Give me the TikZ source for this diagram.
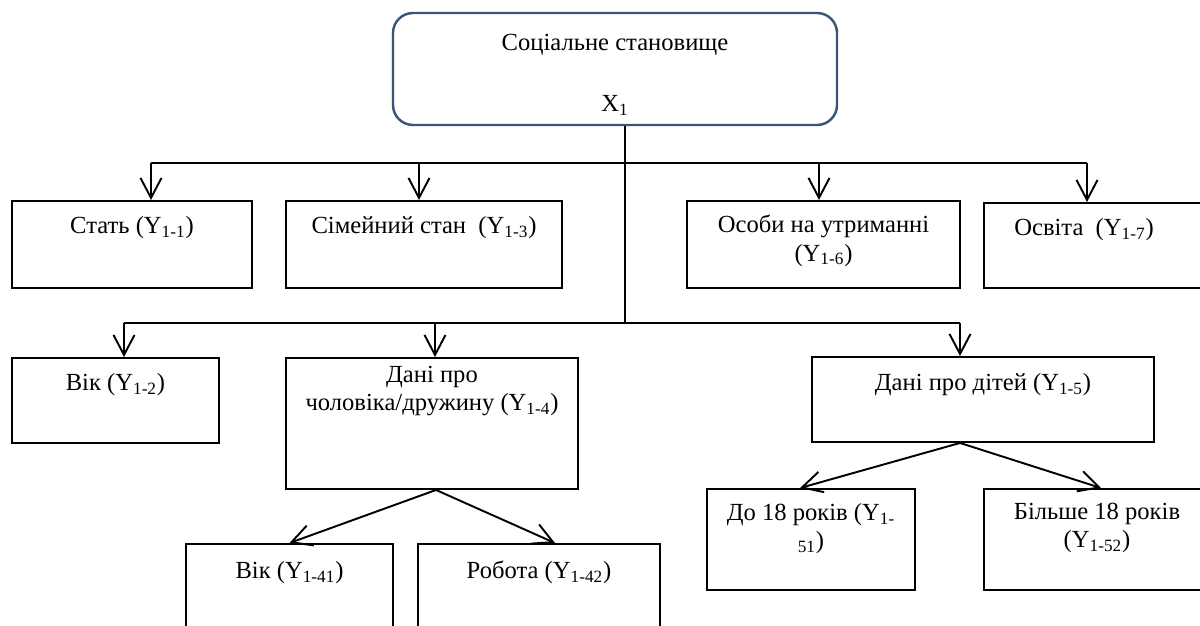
\documentclass[tikz,border=0pt]{standalone}
\usepackage{fontspec}
\setmainfont{Liberation Serif}
\usetikzlibrary{arrows.meta}
\usetikzlibrary{positioning}
\definecolor{ramka}{HTML}{3B5577}

\begin{document}
\begin{tikzpicture}[every node/.style={font=\fontsize{14pt}{16pt}\selectfont},
  blok/.style 2 args={draw, line width=1.1pt, inner sep=0pt, minimum width=#1cm, minimum height=#2cm},
  napys/.style={inner sep=0pt, align=center},
  lin/.style={line width=1.1pt},
  strilka/.style={line width=1.1pt, -{Straight Barb[length=4mm,width=4.2mm]}}]

\useasboundingbox (0,0) rectangle (24,12.5);
\clip (0,0) rectangle (24,12.5);

% Головний блок
\node[draw=ramka, line width=1.4pt, rounded corners=0.4cm, minimum width=8.88cm,
  minimum height=2.24cm, align=center] (soc) at (12.30,11.12)
  {\rule{0pt}{0.57cm}Соціальне становище\\[0.66cm]X\textsubscript{1}};

% Перший рівень
\node[blok={4.80}{1.74}] (stat) at (2.64,7.61) {};
\node[napys, below=0.32cm of stat.north] (statT) {Стать (Y\textsubscript{1-1})};

\node[blok={5.52}{1.74}] (simya) at (8.48,7.61) {};
\node[napys, below=0.32cm of simya.north] (simyaT) {Сімейний стан~ (Y\textsubscript{1-3})};

\node[blok={5.46}{1.74}] (osoby) at (16.47,7.61) {};
\node[napys, below=0.3cm of osoby.north] (osobyT) {Особи на утриманні\\(Y\textsubscript{1-6})};

\node[blok={5.20}{1.70}] (osvita) at (22.28,7.59) {};
\node[napys, below=0.32cm of osvita.north, xshift=-0.6cm] (osvitaT) {Освіта~ (Y\textsubscript{1-7})};

% Другий рівень
\node[blok={4.14}{1.70}] (vik) at (2.31,4.49) {};
\node[napys, below=0.32cm of vik.north] (vikT) {Вік (Y\textsubscript{1-2})};

\node[blok={5.84}{2.62}] (partner) at (8.64,4.03) {};
\node[napys, below=0.18cm of partner.north] (partnerT) {Дані про\\чоловіка/дружину (Y\textsubscript{1-4})};

\node[blok={6.84}{1.70}] (dity) at (19.66,4.51) {};
\node[napys, below=0.34cm of dity.north] (dityT) {Дані про дітей (Y\textsubscript{1-5})};

% Третій рівень
\node[blok={4.14}{2.40}] (vik41) at (5.79,0.42) {};
\node[napys, below=0.36cm of vik41.north] (vik41T) {Вік (Y\textsubscript{1-41})};

\node[blok={4.84}{2.40}] (robota) at (10.78,0.42) {};
\node[napys, below=0.36cm of robota.north] (robotaT) {Робота (Y\textsubscript{1-42})};

\node[blok={4.16}{2.02}] (do18) at (16.22,1.71) {};
\node[napys, below=0.3cm of do18.north] (do18T) {До 18 років (Y\textsubscript{1-}\\\textsubscript{51})};

\node[blok={5.20}{2.02}] (bilshe) at (22.28,1.71) {};
\node[napys, below=0.3cm of bilshe.north, xshift=-0.34cm] (bilsheT) {Більше 18 років\\(Y\textsubscript{1-52})};

% Шини
\coordinate (s1) at (3.02,9.24);
\coordinate (s2) at (8.38,9.24);
\coordinate (s3) at (16.38,9.24);
\coordinate (s4) at (21.74,9.24);
\coordinate (r1) at (2.48,6.04);
\coordinate (r2) at (8.70,6.04);
\coordinate (r0) at (12.50,6.04);
\coordinate (r3) at (19.20,6.04);

\draw[lin] (soc.south -| r0) -- (r0);
\draw[lin] (s1) -- (s4);
\draw[lin] (r1) -- (r3);

% Стрілки
\draw[strilka] (s1) -- (s1 |- stat.north);
\draw[strilka] (s2) -- (s2 |- simya.north);
\draw[strilka] (s3) -- (s3 |- osoby.north);
\draw[strilka] (s4) -- (s4 |- osvita.north);
\draw[strilka] (r1) -- (r1 |- vik.north);
\draw[strilka] (r2) -- (r2 |- partner.north);
\draw[strilka] (r3) -- (r3 |- dity.north);

\draw[strilka] ([xshift=0.08cm]partner.south) -- (vik41.north);
\draw[strilka] ([xshift=0.08cm]partner.south) -- ([xshift=0.32cm]robota.north);
\draw[strilka] (dity.south -| r3) -- ([xshift=-0.22cm]do18.north);
\draw[strilka] (dity.south -| r3) -- ([xshift=-0.26cm]bilshe.north);
\end{tikzpicture}
\end{document}
